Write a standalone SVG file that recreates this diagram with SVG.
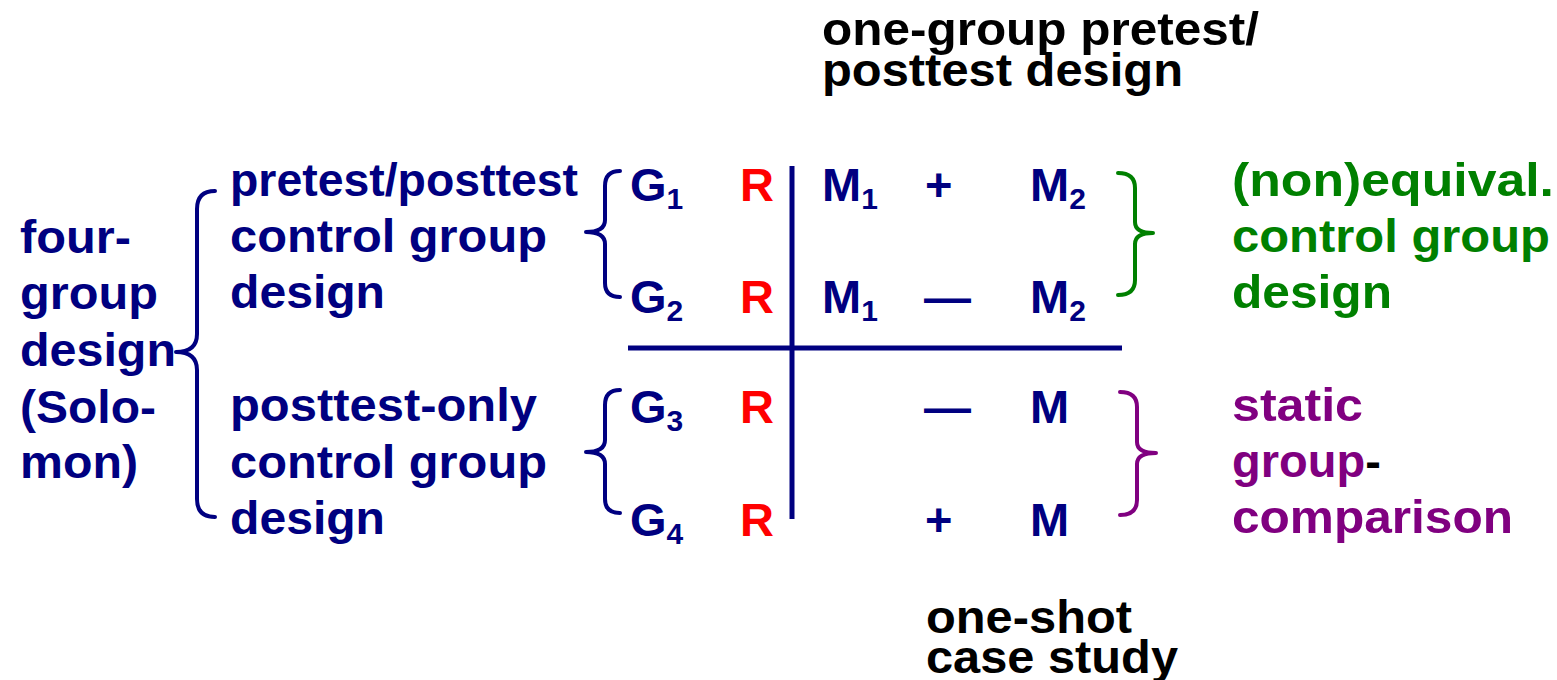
<svg xmlns="http://www.w3.org/2000/svg" width="1557" height="680" viewBox="0 0 1557 680">
<style>
text{font-family:"Liberation Sans",Arial,sans-serif;font-weight:bold;font-size:47px}
.n{fill:#000080}.r{fill:#ff0000}.g{fill:#008000}.p{fill:#800080}.k{fill:#000}
.sub{font-size:30px}
.br{fill:none;stroke-width:4;stroke-linecap:round;stroke-linejoin:round}
.ln{stroke:#000080;stroke-width:5}
</style>
<rect width="1557" height="680" fill="#fff"/>
<g id="top-label"><text class="k" x="822" y="45" textLength="437" lengthAdjust="spacingAndGlyphs">one-group pretest/</text><text class="k" x="822" y="86" textLength="361" lengthAdjust="spacingAndGlyphs">posttest design</text></g>
<g id="bottom-label"><text class="k" x="926" y="633" textLength="206" lengthAdjust="spacingAndGlyphs">one-shot</text><text class="k" x="926" y="673" textLength="252" lengthAdjust="spacingAndGlyphs">case study</text></g>
<g id="four-group"><text class="n" x="20" y="253" textLength="111" lengthAdjust="spacingAndGlyphs">four-</text><text class="n" x="20" y="309" textLength="138" lengthAdjust="spacingAndGlyphs">group</text><text class="n" x="20" y="366" textLength="156" lengthAdjust="spacingAndGlyphs">design</text><text class="n" x="20" y="423" textLength="136" lengthAdjust="spacingAndGlyphs">(Solo-</text><text class="n" x="20" y="478" textLength="118" lengthAdjust="spacingAndGlyphs">mon)</text></g>
<g id="pretest-posttest"><text class="n" x="230" y="196" textLength="348" lengthAdjust="spacingAndGlyphs">pretest/posttest</text><text class="n" x="230" y="252" textLength="317" lengthAdjust="spacingAndGlyphs">control group</text><text class="n" x="230" y="308" textLength="155" lengthAdjust="spacingAndGlyphs">design</text></g>
<g id="posttest-only"><text class="n" x="230" y="421" textLength="307" lengthAdjust="spacingAndGlyphs">posttest-only</text><text class="n" x="230" y="478" textLength="317" lengthAdjust="spacingAndGlyphs">control group</text><text class="n" x="230" y="534" textLength="155" lengthAdjust="spacingAndGlyphs">design</text></g>
<g id="nonequival"><text class="g" x="1232" y="196" textLength="322" lengthAdjust="spacingAndGlyphs">(non)equival.</text><text class="g" x="1232" y="252" textLength="318" lengthAdjust="spacingAndGlyphs">control group</text><text class="g" x="1232" y="308" textLength="160" lengthAdjust="spacingAndGlyphs">design</text></g>
<g id="static"><text class="p" x="1232" y="421" textLength="131" lengthAdjust="spacingAndGlyphs">static</text><text class="p" x="1232" y="477">group<tspan class="k">-</tspan></text><text class="p" x="1232" y="533" textLength="281" lengthAdjust="spacingAndGlyphs">comparison</text></g>
<g id="row1"><text class="n" x="630" y="201">G<tspan class="sub" dy="8">1</tspan></text><text class="r" x="740" y="201">R</text><text class="n" x="822" y="201">M<tspan class="sub" dy="8">1</tspan></text><text class="n" x="925" y="201">+</text><text class="n" x="1030" y="201">M<tspan class="sub" dy="8">2</tspan></text></g>
<g id="row2"><text class="n" x="630" y="313">G<tspan class="sub" dy="8">2</tspan></text><text class="r" x="740" y="313">R</text><text class="n" x="822" y="313">M<tspan class="sub" dy="8">1</tspan></text><text class="n" x="924" y="313">—</text><text class="n" x="1030" y="313">M<tspan class="sub" dy="8">2</tspan></text></g>
<g id="row3"><text class="n" x="630" y="423">G<tspan class="sub" dy="8">3</tspan></text><text class="r" x="740" y="423">R</text><text class="n" x="924" y="423">—</text><text class="n" x="1030" y="423">M</text></g>
<g id="row4"><text class="n" x="630" y="536">G<tspan class="sub" dy="8">4</tspan></text><text class="r" x="740" y="536">R</text><text class="n" x="925" y="536">+</text><text class="n" x="1030" y="536">M</text></g>
<g id="connectors">
<line class="ln" x1="792" y1="166" x2="792" y2="519"/>
<line class="ln" x1="628" y1="348" x2="1122" y2="348"/>
<path class="br" stroke="#000080" d="M215 191 Q197 191 197 209 L197 334 Q197 352 176 352 Q197 352 197 370 L197 499 Q197 517 215 517"/>
<path class="br" stroke="#000080" d="M620 171 Q605 171 605 186 L605 220 Q605 232 586 232 Q605 232 605 244 L605 283 Q605 297 620 297"/>
<path class="br" stroke="#000080" d="M620 390 Q605 390 605 405 L605 440 Q605 452 586 452 Q605 452 605 464 L605 499 Q605 513 620 513"/>
<path class="br" stroke="#008000" d="M1118 173 Q1135 173 1135 188 L1135 222 Q1135 233 1153 233 Q1135 233 1135 244 L1135 280 Q1135 295 1118 295"/>
<path class="br" stroke="#800080" d="M1120 392 Q1137 392 1137 407 L1137 442 Q1137 453 1156 453 Q1137 453 1137 464 L1137 500 Q1137 515 1120 515"/>
</g>
</svg>
